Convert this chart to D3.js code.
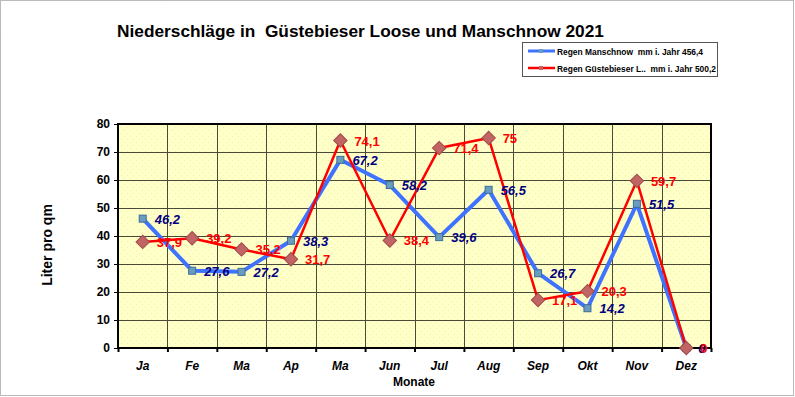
<!DOCTYPE html>
<html>
<head>
<meta charset="utf-8">
<script src="https://cdn.jsdelivr.net/npm/d3@7"></script>
<style>
  body { margin: 0; background: #fff; }
  svg { display: block; font-family: "Liberation Sans", Arial, sans-serif; }
</style>
</head>
<body>
<div id="chart"></div>
<script>
// monthly rainfall 2021, mm
var months = ["Ja", "Fe", "Ma", "Ap", "Ma", "Jun", "Jul", "Aug", "Sep", "Okt", "Nov", "Dez"];
var manschnow = [46.2, 27.6, 27.2, 38.3, 67.2, 58.2, 39.6, 56.5, 26.7, 14.2, 51.5, 0];
var guestebiese = [37.9, 39.2, 35.2, 31.7, 74.1, 38.4, 71.4, 75, 17.1, 20.3, 59.7, 0];
var yTicks = [0, 10, 20, 30, 40, 50, 60, 70, 80];
var legendNames = ["Regen Manschnow  mm i. Jahr 456,4", "Regen Güstebieser L..  mm i. Jahr 500,2"];

var width = 795, height = 397;
var plot = {left: 118, right: 711, top: 124, bottom: 348};

var svg = d3.select("#chart").append("svg")
    .attr("width", width)
    .attr("height", height);

// outer frame
svg.append("rect")
    .attr("x", 0.5).attr("y", 0.5)
    .attr("width", width - 2).attr("height", height - 2)
    .attr("fill", "#fff")
    .attr("stroke", "#777")
    .attr("stroke-dasharray", "1,1");

// dotted yellow fill
var defs = svg.append("defs");
var pat = defs.append("pattern")
    .attr("id", "dots")
    .attr("width", 6).attr("height", 6)
    .attr("patternUnits", "userSpaceOnUse");
pat.append("rect").attr("width", 6).attr("height", 6).attr("fill", "#ffffc8");
pat.append("rect").attr("x", 1).attr("y", 1).attr("width", 1).attr("height", 1).attr("fill", "#f2f2b0");
pat.append("rect").attr("x", 4).attr("y", 4).attr("width", 1).attr("height", 1).attr("fill", "#f2f2b0");

var x = d3.scaleBand()
    .domain(d3.range(months.length))
    .range([plot.left, plot.right])
    .padding(0);

var xEdge = d3.scaleLinear()
    .domain([0, months.length])
    .range([plot.left, plot.right]);

var y = d3.scaleLinear()
    .domain([0, 80])
    .range([plot.bottom, plot.top]);

svg.append("rect")
    .attr("x", plot.left).attr("y", plot.top)
    .attr("width", plot.right - plot.left)
    .attr("height", plot.bottom - plot.top)
    .attr("fill", "url(#dots)");

// grid
var grid = svg.append("g").attr("stroke", "#4a4a3a").attr("stroke-width", 1);
grid.selectAll("line.h")
    .data(yTicks.slice(1, -1))
    .enter().append("line")
    .attr("class", "h")
    .attr("x1", plot.left).attr("x2", plot.right)
    .attr("y1", function (d) { return Math.round(y(d)) + 0.5; })
    .attr("y2", function (d) { return Math.round(y(d)) + 0.5; });
grid.selectAll("line.v")
    .data(d3.range(1, months.length))
    .enter().append("line")
    .attr("class", "v")
    .attr("y1", plot.top).attr("y2", plot.bottom)
    .attr("x1", function (d) { return Math.round(xEdge(d)) + 0.5; })
    .attr("x2", function (d) { return Math.round(xEdge(d)) + 0.5; });

// plot border
svg.append("rect")
    .attr("x", plot.left).attr("y", plot.top)
    .attr("width", plot.right - plot.left)
    .attr("height", plot.bottom - plot.top)
    .attr("fill", "none")
    .attr("stroke", "#000")
    .attr("stroke-width", 2);

// y axis
var yAxis = svg.append("g")
    .attr("transform", "translate(" + plot.left + ",0)")
    .call(d3.axisLeft(y).tickValues(yTicks).tickSize(4).tickPadding(4));
yAxis.select(".domain").remove();
yAxis.selectAll("text")
    .attr("font-size", 12)
    .attr("font-weight", "bold")
    .attr("fill", "#000")
    .attr("font-family", "Liberation Sans, Arial, sans-serif");

// x axis: ticks on band edges, labels in centre
var xTickG = svg.append("g")
    .attr("transform", "translate(0," + plot.bottom + ")")
    .call(d3.axisBottom(xEdge).ticks(12).tickSize(4).tickFormat(""));
xTickG.select(".domain").remove();
xTickG.selectAll("line").attr("stroke-width", 2);

var xAxis = svg.append("g")
    .attr("transform", "translate(0," + plot.bottom + ")")
    .call(d3.axisBottom(x).tickSize(0).tickPadding(13).tickFormat(function (i) { return months[i]; }));
xAxis.select(".domain").remove();
xAxis.selectAll("text")
    .attr("font-size", 12)
    .attr("font-weight", "bold")
    .attr("font-style", "italic")
    .attr("fill", "#000")
    .attr("font-family", "Liberation Sans, Arial, sans-serif");

// titles
svg.append("text")
    .attr("x", 117).attr("y", 37)
    .attr("font-size", 17.3)
    .attr("font-weight", "bold")
    .style("white-space", "pre")
    .text("Niederschläge in  Güstebieser Loose und Manschnow 2021");

svg.append("text")
    .attr("transform", "translate(52,245) rotate(-90)")
    .attr("text-anchor", "middle")
    .attr("font-size", 14)
    .attr("font-weight", "bold")
    .text("Liter pro qm");

svg.append("text")
    .attr("x", 414).attr("y", 386)
    .attr("text-anchor", "middle")
    .attr("font-size", 12)
    .attr("font-weight", "bold")
    .text("Monate");

var fmt = function (v) { return String(v).replace(".", ","); };
var cx = function (d, i) { return x(i) + x.bandwidth() / 2; };

var line = d3.line()
    .x(function (d, i) { return cx(d, i); })
    .y(function (d) { return y(d); });

// Manschnow series
svg.append("path")
    .datum(manschnow)
    .attr("d", line)
    .attr("fill", "none")
    .attr("stroke", "#3f73ff")
    .attr("stroke-width", 4)
    .attr("stroke-linejoin", "round");
svg.selectAll("rect.mk")
    .data(manschnow)
    .enter().append("rect")
    .attr("class", "mk")
    .attr("x", function (d, i) { return cx(d, i) - 3.5; })
    .attr("y", function (d) { return y(d) - 3.5; })
    .attr("width", 7).attr("height", 7)
    .attr("fill", "#6a9cc0")
    .attr("stroke", "#3c6e9a")
    .attr("stroke-width", 1);

// Guestebieser series
svg.append("path")
    .datum(guestebiese)
    .attr("d", line)
    .attr("fill", "none")
    .attr("stroke", "#ff0000")
    .attr("stroke-width", 2.5)
    .attr("stroke-linejoin", "round");
svg.selectAll("path.dm")
    .data(guestebiese)
    .enter().append("path")
    .attr("class", "dm")
    .attr("d", d3.symbol().type(d3.symbolSquare).size(90))
    .attr("transform", function (d, i) { return "translate(" + cx(d, i) + "," + y(d) + ") rotate(45)"; })
    .attr("fill", "#c06464")
    .attr("stroke", "#a04a4a")
    .attr("stroke-width", 1);

// value labels
svg.selectAll("text.lb")
    .data(manschnow)
    .enter().append("text")
    .attr("class", "lb")
    .attr("x", function (d, i) { return cx(d, i) + 12; })
    .attr("y", function (d) { return y(d) + 5; })
    .attr("font-size", 13)
    .attr("font-weight", "bold")
    .attr("font-style", "italic")
    .attr("fill", "#000080")
    .text(fmt);

svg.selectAll("text.lr")
    .data(guestebiese)
    .enter().append("text")
    .attr("class", "lr")
    .attr("x", function (d, i) { return cx(d, i) + 14; })
    .attr("y", function (d) { return y(d) + 5; })
    .attr("font-size", 13)
    .attr("font-weight", "bold")
    .attr("fill", "#ff0000")
    .text(fmt);

// legend
var lg = svg.append("g").attr("transform", "translate(522,42)");
lg.append("rect")
    .attr("x", 0.5).attr("y", 0.5)
    .attr("width", 195).attr("height", 34)
    .attr("fill", "#fff")
    .attr("stroke", "#555");
var lgColors = ["#3f73ff", "#ff0000"];
var lgWidths = [146, 159];
var lgRow = lg.selectAll("g.row")
    .data(legendNames)
    .enter().append("g")
    .attr("class", "row")
    .attr("transform", function (d, i) { return "translate(6," + (9 + i * 17) + ")"; });
lgRow.append("line")
    .attr("x1", 0).attr("x2", 27)
    .attr("stroke", function (d, i) { return lgColors[i]; })
    .attr("stroke-width", function (d, i) { return i === 0 ? 3 : 2.5; });
lgRow.append("rect")
    .attr("x", 11).attr("y", -2).attr("width", 4).attr("height", 4)
    .attr("fill", function (d, i) { return i === 0 ? "#6a9cc0" : "#c06464"; });
lgRow.append("text")
    .attr("x", 29).attr("y", 3.5)
    .attr("font-size", 9)
    .attr("font-weight", "bold")
    .style("white-space", "pre")
    .attr("textLength", function (d, i) { return lgWidths[i]; })
    .attr("lengthAdjust", "spacingAndGlyphs")
    .text(function (d) { return d; });
</script>
</body>
</html>
